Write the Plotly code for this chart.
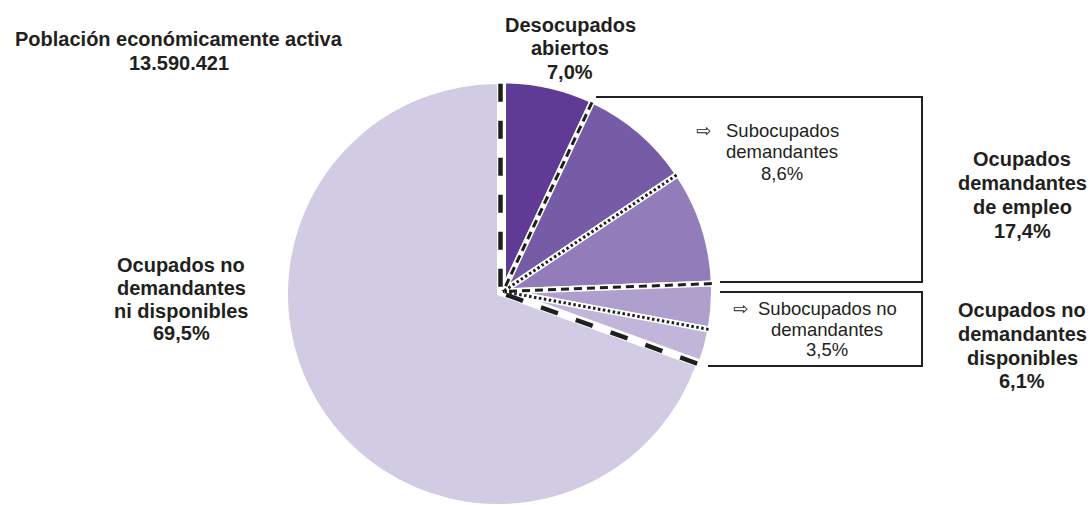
import math
import plotly.graph_objects as go

# ---------------- data ----------------
categories = [
    "Desocupados abiertos",
    "Subocupados demandantes",
    "Otros ocupados demandantes de empleo",
    "Subocupados no demandantes",
    "Otros ocupados no demandantes disponibles",
    "Ocupados no demandantes ni disponibles",
]
shares = [7.0, 8.6, 8.8, 3.5, 2.6, 69.5]
colors = ["#5f3b96", "#765ca6", "#927cba", "#ae9fcd", "#c1b6d9", "#d1cce4"]

title_lines = ["Población económicamente activa", "13.590.421"]
label_desocupados = ["Desocupados", "abiertos", "7,0%"]
label_dem_empleo = ["Ocupados", "demandantes", "de empleo", "17,4%"]
label_no_dem_disp = ["Ocupados no", "demandantes", "disponibles", "6,1%"]
label_ni_disp = ["Ocupados no", "demandantes", "ni disponibles", "69,5%"]
box1_lines = ["Subocupados", "demandantes", "8,6%"]
box2_lines = ["Subocupados no", "demandantes", "3,5%"]

# boundary line styles (between consecutive slices, starting at 12 o'clock)
boundary_styles = ["thick", "dash", "dot", "dash", "dot", "thick"]

# ---------------- layout geometry (pixels) ----------------
W, H = 1090, 505
R = 211
BIG_C = (498.0, 294.0)      # centre of the large slice
SMALL_C = (503.0, 291.5)    # centre of the group of small slices (slightly pulled)
INK = "#231f20"
FONT = "Liberation Sans, Arial, Helvetica, sans-serif"


def px(x):
    return x / W


def py(y):
    return (H - y) / H


def domain(c, r):
    cx, cy = c
    return dict(x=[max(0.0, px(cx - r)), min(1.0, px(cx + r))],
                y=[max(0.0, py(cy + r)), min(1.0, py(cy - r))])


n = len(shares)
big_idx = n - 1
transparent = "rgba(0,0,0,0)"

fig = go.Figure()

# large slice
fig.add_trace(go.Pie(
    labels=categories, values=shares, sort=False, direction="clockwise", rotation=0,
    marker=dict(colors=[c if i == big_idx else transparent for i, c in enumerate(colors)],
                line=dict(color="white", width=[2 if i == big_idx else 0 for i in range(n)])),
    textinfo="none", hoverinfo="label+percent", showlegend=False,
    domain=domain(BIG_C, R),
))
# small slices
fig.add_trace(go.Pie(
    labels=categories, values=shares, sort=False, direction="clockwise", rotation=0,
    marker=dict(colors=[transparent if i == big_idx else c for i, c in enumerate(colors)],
                line=dict(color="white", width=[0 if i == big_idx else 6 for i in range(n)])),
    textinfo="none", hoverinfo="label+percent", showlegend=False,
    domain=domain(SMALL_C, R),
))

# ---------------- boundary dashed lines (angles from the data) ----------------
total = sum(shares)
cum = [0.0]
for v in shares[:-1]:
    cum.append(cum[-1] + v)
mid_c = ((BIG_C[0] + SMALL_C[0]) / 2, (BIG_C[1] + SMALL_C[1]) / 2)
style_map = {
    "thick": dict(width=4.5, dash="18px,19px"),
    "dash": dict(width=3, dash="8px,5px"),
    "dot": dict(width=3, dash="2.5px,2.5px"),
}
shapes = []
for k, st in enumerate(boundary_styles):
    theta = math.radians(360.0 * cum[k] / total)
    c = mid_c if st == "thick" else SMALL_C
    length = R - 2
    ox = c[0] + length * math.sin(theta)
    oy = c[1] - length * math.cos(theta)
    shapes.append(dict(type="line", xref="paper", yref="paper", layer="above",
                       x0=px(ox), y0=py(oy), x1=px(c[0]), y1=py(c[1]),
                       line=dict(color="#1f1f1f", **style_map[st])))


def path(points):
    return "M " + " L ".join(f"{px(x):.5f},{py(y):.5f}" for x, y in points)


# bracket boxes
shapes.append(dict(type="path", xref="paper", yref="paper", layer="above",
                   path=path([(596, 97), (922, 97), (922, 282), (720, 282)]),
                   line=dict(color=INK, width=2)))
shapes.append(dict(type="path", xref="paper", yref="paper", layer="above",
                   path=path([(720, 292), (922, 292), (922, 366), (708, 366)]),
                   line=dict(color=INK, width=2)))

# ---------------- text ----------------
annotations = []


def lines_at(lines, x, ys, size, bold):
    for l, y in zip(lines, ys):
        annotations.append(dict(text=f"<b>{l}</b>" if bold else l, x=px(x), y=py(y),
                                xref="paper", yref="paper",
                                xanchor="center", yanchor="middle", showarrow=False,
                                font=dict(family=FONT, size=size, color=INK)))


BOLD = 20
REG = 18.5
lines_at(title_lines, 179, [39, 63], BOLD, True)
lines_at(label_desocupados, 570, [25, 48.5, 72], BOLD, True)
lines_at(label_dem_empleo, 1022, [159, 183, 207, 231], BOLD, True)
lines_at(label_no_dem_disp, 1022, [310, 334, 358, 381], BOLD, True)
lines_at(label_ni_disp, 181, [265, 288, 311, 333], BOLD, True)

lines_at(box1_lines, 782, [130.5, 151.5, 173.5], REG, False)
lines_at(box2_lines, 827, [308.5, 329, 349.5], REG, False)
for ax, ay in [(703, 130.5), (740, 308.5)]:
    annotations.append(dict(text="⇨", x=px(ax), y=py(ay), xref="paper", yref="paper",
                            xanchor="center", yanchor="middle", showarrow=False,
                            font=dict(family="DejaVu Sans, sans-serif", size=18, color=INK)))

fig.update_layout(
    width=W, height=H, autosize=False,
    margin=dict(l=0, r=0, t=0, b=0, pad=0),
    paper_bgcolor="white", plot_bgcolor="white",
    showlegend=False,
    shapes=shapes, annotations=annotations,
    font=dict(family=FONT, color=INK),
)

fig.write_html("out.html", config={"displayModeBar": False},
               post_script="document.body.style.margin='0px';")
